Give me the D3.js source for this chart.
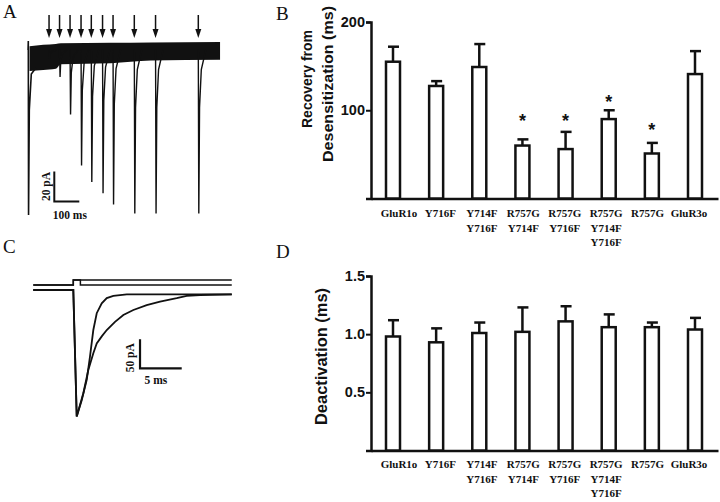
<!DOCTYPE html>
<html><head><meta charset="utf-8">
<script src="https://cdn.jsdelivr.net/npm/d3@7"></script>
<style>html,body{margin:0;padding:0;background:#fff;} svg{display:block;}</style>
</head><body><svg id="c" width="720" height="502"></svg>
<script>
// ---------- DATA ----------
const categories = [["GluR1o"],["Y716F"],["Y714F","Y716F"],["R757G","Y714F"],["R757G","Y716F"],["R757G","Y714F","Y716F"],["R757G"],["GluR3o"]];
const recoveryMean = [155, 127.5, 149, 60, 56, 90, 51, 141];
const recoverySem  = [17, 5.5, 26, 7, 19.5, 10, 12, 26];
const recoveryStarLevel = [null, null, null, 92, 92, 114, 82, null];
const recoveryTicks = [100, 200];
const deactivationMean = [0.98, 0.93, 1.01, 1.02, 1.11, 1.06, 1.06, 1.04];
const deactivationSem  = [0.14, 0.12, 0.09, 0.21, 0.13, 0.11, 0.04, 0.10];
const deactivationTicks = [0.5, 1.0, 1.5];

// Panel A: paired-pulse recovery traces (ms, pA)
const testIntervalsMs = [83, 125, 167, 211, 252, 297, 339, 424, 509, 680];
const testAmplitudesPa = [6, 18, 43, 77, 88, 95.5, 103, 109, 109, 109];
const conditioningAmplitudePa = 110;
const bandTimeMs  = [5, 60, 110, 130, 330, 490, 767];
const bandUpperPa = [2.5, 3.5, 4, 4.5, 4.8, 5, 5.4];
const bandLowerPa = [-14, -13.3, -12.5, -9.5, -8.8, -7, -6.5];

// Panel C: deactivation (fast) and desensitization (slow) currents (ms, pA)
const fastTimeMs    = [-4.8, 0, 0.41, 1.01, 1.61, 2.0, 2.4, 2.81, 3.41, 4.01, 4.8, 6.41, 19];
const fastCurrentPa = [0, 0, -218, -190, -155, -115, -69, -40, -23, -14, -10, -7.4, -7.4];
const slowTimeMs    = [-4.8, 0, 0.41, 1.2, 1.8, 2.4, 2.81, 3.41, 4.01, 5.0, 6.0, 7.2, 8.8, 10.4, 12.4, 13.6, 15.2, 19];
const slowCurrentPa = [0, 0, -218, -178, -138, -109, -92, -80, -69, -55, -43, -34.5, -26, -20, -14, -10, -8.6, -7.4];
const briefPulseMs = [0, 0.85];
const longPulseMs  = [0, 19];

// ---------- DRAW ----------
const svg = d3.select("#c");
const SANS = "'Liberation Sans', Arial, sans-serif";
const SERIF = "'Liberation Serif', 'Times New Roman', serif";
const keys = categories.map(c => c.join(" "));

function panelLabel(txt, x, y) {
  svg.append("text").attr("x", x).attr("y", y).text(txt)
    .attr("font-family", SERIF).attr("font-size", 19).attr("fill", "#111");
}

function barPanel(o) {
  const g = svg.append("g");
  const y = d3.scaleLinear().domain(o.domain).range(o.range);
  const xBar = d3.scalePoint().domain(keys).range([393, 695]);
  const xLab = d3.scalePoint().domain(keys).range([399, 689]);
  const xLine = d3.scaleLinear().domain([0, 1]).range([371, 718]);

  const ya = g.append("g").attr("transform", "translate(371,0)")
    .call(d3.axisLeft(y).tickValues(o.ticks).tickSizeOuter(0).tickSize(5).tickFormat(o.fmt));
  ya.select(".domain").attr("stroke", "#111").attr("stroke-width", 2.5);
  ya.selectAll(".tick line").attr("stroke", "#111").attr("stroke-width", 2);
  ya.selectAll(".tick text").attr("font-family", SANS).attr("font-weight", "bold")
    .attr("font-size", 14.5).attr("fill", "#111").attr("x", -6);

  const xa = g.append("g").attr("transform", `translate(0,${y(0)})`)
    .call(d3.axisBottom(xLine).tickValues([]).tickSizeOuter(0));
  xa.select(".domain").attr("stroke", "#111").attr("stroke-width", 2.5);

  const data = keys.map((k, i) => ({k, m: o.mean[i], s: o.sem[i], star: o.star ? o.star[i] : null}));
  g.selectAll("line.err").data(data).join("line")
    .attr("x1", d => xBar(d.k)).attr("x2", d => xBar(d.k))
    .attr("y1", d => y(d.m)).attr("y2", d => y(d.m + d.s))
    .attr("stroke", "#111").attr("stroke-width", 2.5);
  g.selectAll("line.cap").data(data).join("line")
    .attr("x1", d => xBar(d.k) - 5).attr("x2", d => xBar(d.k) + 6)
    .attr("y1", d => y(d.m + d.s)).attr("y2", d => y(d.m + d.s))
    .attr("stroke", "#111").attr("stroke-width", 2.5);
  g.selectAll("rect.bar").data(data).join("rect")
    .attr("x", d => xBar(d.k) - 7).attr("width", 14)
    .attr("y", d => y(d.m)).attr("height", d => y(0) - y(d.m))
    .attr("fill", "#fff").attr("stroke", "#111").attr("stroke-width", 2.5);
  g.selectAll("text.star").data(data.filter(d => d.star != null)).join("text")
    .attr("x", d => xBar(d.k)).attr("y", d => y(d.star) + 10)
    .attr("text-anchor", "middle").attr("font-family", SANS).attr("font-weight", "bold")
    .attr("font-size", 18).attr("fill", "#111").text("*");
  data.forEach((d, i) => {
    categories[i].forEach((line, j) => {
      g.append("text").attr("x", xLab(d.k)).attr("y", o.labelY + j * 14.5)
        .attr("text-anchor", "middle").attr("font-family", SERIF).attr("font-weight", "bold")
        .attr("font-size", 11).attr("fill", "#111").text(line);
    });
  });
  o.title.forEach(t => {
    g.append("text").attr("transform", `translate(${t.x},${t.cy}) rotate(-90)`)
      .attr("text-anchor", "middle").attr("font-family", SANS).attr("font-weight", "bold")
      .attr("font-size", t.fs).attr("textLength", t.len).attr("lengthAdjust", "spacingAndGlyphs")
      .attr("fill", "#111").text(t.text);
  });
}

barPanel({
  domain: [0, 200], range: [198.5, 22], ticks: recoveryTicks, fmt: d3.format("d"),
  mean: recoveryMean, sem: recoverySem, star: recoveryStarLevel, labelY: 217,
  title: [{text: "Recovery from", x: 311.5, cy: 79, fs: 14.5, len: 98},
          {text: "Desensitization (ms)", x: 333, cy: 84, fs: 15.5, len: 156}]
});
barPanel({
  domain: [0, 1.5], range: [450.5, 276], ticks: deactivationTicks, fmt: d3.format(".1f"),
  mean: deactivationMean, sem: deactivationSem, star: null, labelY: 468,
  title: [{text: "Deactivation (ms)", x: 327, cy: 356.5, fs: 16, len: 137}]
});

// ---------- Panel A ----------
const xA = d3.scaleLinear().domain([0, 100]).range([28.3, 53.3]);
const yA = d3.scaleLinear().domain([0, -20]).range([50, 80]);
const gA = svg.append("g");
const band = bandTimeMs.map((t, i) => ({t, u: bandUpperPa[i], l: bandLowerPa[i]}));
gA.append("path").datum(band)
  .attr("d", d3.area().x(d => xA(d.t)).y0(d => yA(d.u)).y1(d => yA(d.l)).curve(d3.curveMonotoneX))
  .attr("fill", "#111");
const lineA = d3.line().x(d => xA(d[0])).y(d => yA(d[1]));
const condPts = [[-1, 0], [0, 6], [1, -conditioningAmplitudePa], [4, -40], [12, -16], [30, -12]];
gA.append("path").attr("d", lineA(condPts)).attr("fill", "none").attr("stroke", "#111").attr("stroke-width", 1.6);
testIntervalsMs.forEach((t0, i) => {
  const A = testAmplitudesPa[i];
  const pts = [[t0 - 3, 0], [t0, 0], [t0 + 2, -A], [t0 + 5, -A * 0.35], [t0 + 12, -A * 0.12], [t0 + 30, 0]];
  gA.append("path").attr("d", lineA(pts)).attr("fill", "none").attr("stroke", "#111").attr("stroke-width", 1.4);
  const x = xA(t0);
  gA.append("line").attr("x1", x).attr("x2", x).attr("y1", 15).attr("y2", 31)
    .attr("stroke", "#111").attr("stroke-width", 1.5);
  gA.append("path").attr("d", `M${x - 3},29 L${x + 3},29 L${x},38 Z`).attr("fill", "#111");
});
const sbA = [[104, -81], [104, -101], [204, -101]];
gA.append("path").attr("d", lineA(sbA)).attr("fill", "none").attr("stroke", "#111").attr("stroke-width", 2);
gA.append("text").attr("transform", `translate(${xA(104) - 4},${(yA(-81) + yA(-101)) / 2}) rotate(-90)`)
  .attr("text-anchor", "middle").attr("font-family", SERIF).attr("font-weight", "bold")
  .attr("font-size", 11.5).attr("fill", "#111").text("20 pA");
gA.append("text").attr("x", (xA(104) + xA(204)) / 2 + 3).attr("y", yA(-101) + 17)
  .attr("text-anchor", "middle").attr("font-family", SERIF).attr("font-weight", "bold")
  .attr("font-size", 11.5).attr("fill", "#111").text("100 ms");

// ---------- Panel C ----------
const xC = d3.scaleLinear().domain([0, 5]).range([73.3, 115]);
const yC = d3.scaleLinear().domain([0, -50]).range([290, 319]);
const yCmd = d3.scaleLinear().domain([0, 1]).range([285, 280]);
const gC = svg.append("g");
const lineC = d3.line().x(d => xC(d[0])).y(d => yC(d[1]));
const lineCmd = d3.line().x(d => xC(d[0])).y(d => yCmd(d[1]));
const tMin = fastTimeMs[0], tMax = fastTimeMs[fastTimeMs.length - 1];
const cmd = p => [[tMin, 0], [p[0], 0], [p[0], 1], [p[1], 1], [p[1], 0], [tMax, 0]];
gC.append("path").attr("d", lineCmd(cmd(longPulseMs).slice(0, 4))).attr("fill", "none").attr("stroke", "#111").attr("stroke-width", 1.5);
gC.append("path").attr("d", lineCmd(cmd(briefPulseMs))).attr("fill", "none").attr("stroke", "#111").attr("stroke-width", 1.5);
gC.append("path").attr("d", lineC(fastTimeMs.map((t, i) => [t, fastCurrentPa[i]])))
  .attr("fill", "none").attr("stroke", "#111").attr("stroke-width", 1.8);
gC.append("path").attr("d", lineC(slowTimeMs.map((t, i) => [t, slowCurrentPa[i]])))
  .attr("fill", "none").attr("stroke", "#111").attr("stroke-width", 1.8);
const sbC = [[8, -85], [8, -135], [13, -135]];
gC.append("path").attr("d", lineC(sbC)).attr("fill", "none").attr("stroke", "#111").attr("stroke-width", 2.2);
gC.append("text").attr("transform", `translate(${xC(8) - 6.5},${(yC(-85) + yC(-135)) / 2 + 4}) rotate(-90)`)
  .attr("text-anchor", "middle").attr("font-family", SERIF).attr("font-weight", "bold")
  .attr("font-size", 11.5).attr("fill", "#111").text("50 pA");
gC.append("text").attr("x", (xC(8) + xC(13)) / 2 - 5).attr("y", yC(-135) + 16)
  .attr("text-anchor", "middle").attr("font-family", SERIF).attr("font-weight", "bold")
  .attr("font-size", 11.5).attr("fill", "#111").text("5 ms");

panelLabel("A", 3, 18);
panelLabel("B", 276, 20);
panelLabel("C", 3, 253);
panelLabel("D", 276, 258);
</script></body></html>
